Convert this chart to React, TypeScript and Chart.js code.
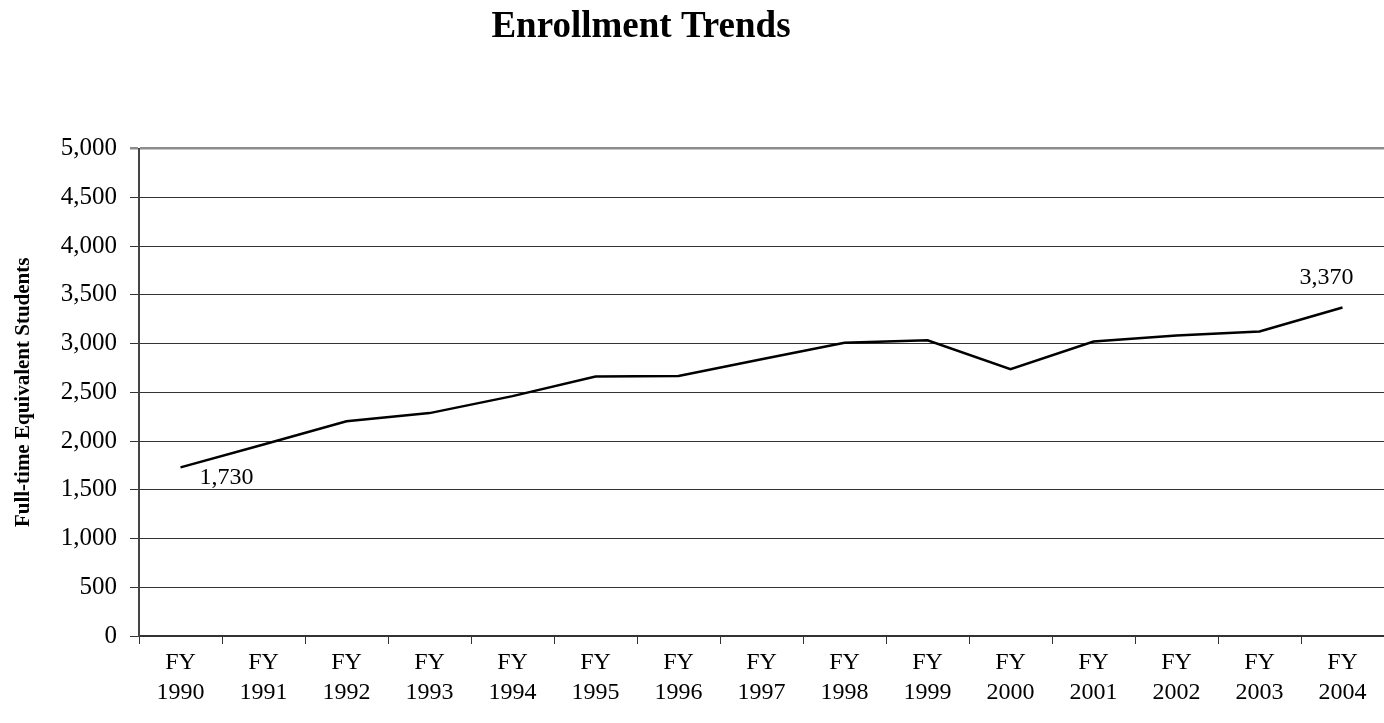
import React, { useEffect, useRef } from "react";
import { Chart, registerables } from "chart.js";

Chart.register(...registerables);

const years = ["1990", "1991", "1992", "1993", "1994", "1995", "1996", "1997", "1998", "1999", "2000", "2001", "2002", "2003", "2004"];
const categories = years.map((y) => ["FY", y]);
const enrollment = [1730, 1965, 2204, 2287, 2461, 2663, 2669, 2840, 3008, 3035, 2738, 3022, 3084, 3125, 3370];
const labeledIndices = [0, 14];
const chartTitle = "Enrollment Trends";
const yAxisTitle = "Full-time Equivalent Students";
const yMin = 0;
const yMax = 5000;
const yStep = 500;

const SERIF = '"Liberation Serif", "Times New Roman", serif';

const fmt = (v: number) => Number(v).toLocaleString("en-US");

const titlePlugin = {
  id: "customTitle",
  afterDraw(chart: any) {
    const ctx = chart.ctx;
    ctx.save();
    ctx.font = `bold 37px ${SERIF}`;
    ctx.fillStyle = "#000";
    ctx.textAlign = "center";
    ctx.textBaseline = "alphabetic";
    ctx.fillText(chartTitle, 641, 37);
    ctx.restore();
  },
};

const pointLabelPlugin = {
  id: "pointLabels",
  afterDatasetsDraw(chart: any) {
    const ctx = chart.ctx;
    const meta = chart.getDatasetMeta(0);
    ctx.save();
    ctx.font = `24px ${SERIF}`;
    ctx.fillStyle = "#000";
    ctx.textBaseline = "middle";
    labeledIndices.forEach((i, k) => {
      const p = meta.data[i];
      if (!p) return;
      const text = fmt(enrollment[i]);
      if (k === 0) {
        ctx.textAlign = "left";
        ctx.fillText(text, p.x + 19, p.y + 10);
      } else {
        ctx.textAlign = "center";
        ctx.fillText(text, p.x - 16, p.y - 30);
      }
    });
    ctx.restore();
  },
};

export default function App() {
  const ref = useRef<HTMLCanvasElement | null>(null);

  useEffect(() => {
    document.body.style.margin = "0";
    const canvas = ref.current;
    if (!canvas) return;
    const chart = new Chart(canvas, {
      type: "line",
      data: {
        labels: categories,
        datasets: [
          {
            data: enrollment,
            borderColor: "#000",
            borderWidth: 2.5,
            pointRadius: 0,
            tension: 0,
            fill: false,
          },
        ],
      },
      options: {
        animation: false,
        responsive: false,
        devicePixelRatio: 1,
        layout: { padding: { top: 148.7, right: 0, bottom: 0, left: 0 } },
        plugins: {
          legend: { display: false },
          title: { display: false },
          tooltip: { enabled: false },
        },
        scales: {
          x: {
            type: "category",
            offset: true,
            afterFit(scale: any) {
              scale.height = 87;
            },
            grid: {
              offset: true,
              drawOnChartArea: false,
              drawTicks: true,
              tickLength: 8,
              color: "#333",
              lineWidth: 1,
            },
            border: { display: true, color: "#333", width: 1.5 },
            ticks: {
              color: "#000",
              padding: 4,
              maxRotation: 0,
              autoSkip: false,
              font: { family: SERIF, size: 24, lineHeight: 1.25 },
            },
          },
          y: {
            min: yMin,
            max: yMax,
            afterFit(scale: any) {
              scale.width = 139;
            },
            grid: {
              drawTicks: true,
              tickLength: 9,
              color: (c: any) => (c.tick && c.tick.value === yMax ? "#8c8c8c" : "#333"),
              lineWidth: (c: any) => (c.tick && c.tick.value === yMax ? 2.5 : 1),
            },
            border: { display: true, color: "#444", width: 2 },
            ticks: {
              stepSize: yStep,
              color: "#000",
              padding: 13,
              font: { family: SERIF, size: 25 },
              callback: (v: any) => fmt(v),
            },
            title: {
              display: true,
              text: yAxisTitle,
              color: "#000",
              padding: { top: 11, bottom: 0 },
              font: { family: SERIF, size: 21, weight: "bold" },
            },
          },
        },
      },
      plugins: [titlePlugin, pointLabelPlugin],
    } as any);
    return () => chart.destroy();
  }, []);

  return (
    <div style={{ width: 1384, height: 723, background: "#fff" }}>
      <canvas ref={ref} width={1384} height={723} style={{ display: "block" }} />
    </div>
  );
}
